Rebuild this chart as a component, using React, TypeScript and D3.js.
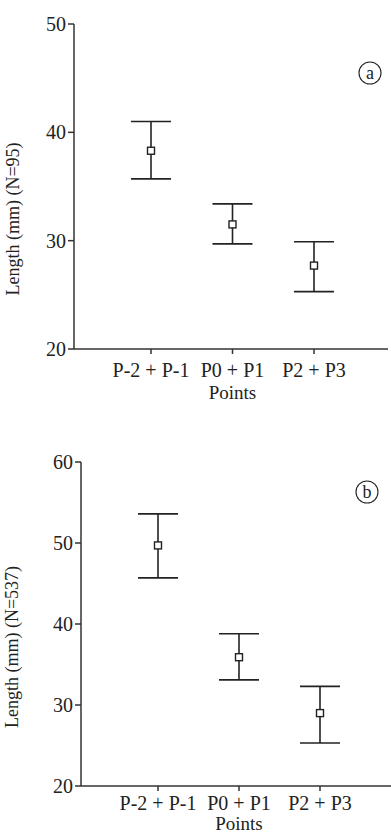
import * as d3 from "d3";
import React, { useEffect, useRef } from "react";

// categories on the x axis
const points = ["P-2 + P-1", "P0 + P1", "P2 + P3"];

// panel a (N=95): mean and error bar ends
const meanA = [38.3, 31.5, 27.7];
const lowA = [35.7, 29.7, 25.3];
const highA = [41.0, 33.4, 29.9];
const ticksA = [20, 30, 40, 50];

// panel b (N=537)
const meanB = [49.7, 35.9, 29.0];
const lowB = [45.7, 33.1, 25.3];
const highB = [53.6, 38.8, 32.3];
const ticksB = [20, 30, 40, 50, 60];

const FONT = "'Liberation Serif', 'Times New Roman', serif";

const App = () => {
  const svgRef = useRef<SVGSVGElement>(null);

  useEffect(() => {
    const svg = d3.select(svgRef.current);
    svg.selectAll("*").remove();

    const drawPanel = (opts: any) => {
      const { left, right, top, bottom, domain, ticks, mean, low, high, tag, ylabel, labelX, labelY, tagX, tagY, xRange, tickDy, titleDy } = opts;

      const x = d3.scalePoint().domain(points).range(xRange);
      const y = d3.scaleLinear().domain(domain).range([bottom, top]);

      const g = svg.append("g");

      // y axis
      g.append("line")
        .attr("x1", left).attr("x2", left)
        .attr("y1", y(domain[1])).attr("y2", y(domain[0]))
        .attr("stroke", "#333").attr("stroke-width", 1.5);
      ticks.forEach((t: number) => {
        g.append("line")
          .attr("x1", left - 6).attr("x2", left)
          .attr("y1", y(t)).attr("y2", y(t))
          .attr("stroke", "#333").attr("stroke-width", 1.5);
        g.append("text")
          .attr("x", left - 8).attr("y", y(t))
          .attr("dy", "0.35em")
          .attr("text-anchor", "end")
          .attr("font-family", FONT).attr("font-size", 20)
          .attr("fill", "#222")
          .text(t);
      });

      // x axis
      g.append("line")
        .attr("x1", left).attr("x2", right)
        .attr("y1", bottom).attr("y2", bottom)
        .attr("stroke", "#333").attr("stroke-width", 1.5);
      points.forEach((p) => {
        g.append("line")
          .attr("x1", x(p)!).attr("x2", x(p)!)
          .attr("y1", bottom).attr("y2", bottom + 5)
          .attr("stroke", "#333").attr("stroke-width", 1.5);
        g.append("text")
          .attr("x", x(p)!).attr("y", bottom + tickDy)
          .attr("text-anchor", "middle")
          .attr("font-family", FONT).attr("font-size", 20)
          .attr("fill", "#222")
          .text(p);
      });
      g.append("text")
        .attr("x", x(points[1])!).attr("y", bottom + titleDy)
        .attr("text-anchor", "middle")
        .attr("font-family", FONT).attr("font-size", 19)
        .attr("fill", "#222")
        .text("Points");

      // y label
      g.append("text")
        .attr("transform", `translate(${labelX},${labelY}) rotate(-90)`)
        .attr("text-anchor", "middle")
        .attr("dy", "0.35em")
        .attr("font-family", FONT).attr("font-size", 18)
        .attr("fill", "#222")
        .text(ylabel);

      // error bars
      points.forEach((p, i) => {
        const cx = x(p)!;
        g.append("line")
          .attr("x1", cx).attr("x2", cx)
          .attr("y1", y(high[i])).attr("y2", y(low[i]))
          .attr("stroke", "#222").attr("stroke-width", 1.6);
        [high[i], low[i]].forEach((v) => {
          g.append("line")
            .attr("x1", cx - 20).attr("x2", cx + 20)
            .attr("y1", y(v)).attr("y2", y(v))
            .attr("stroke", "#222").attr("stroke-width", 1.6);
        });
        g.append("rect")
          .attr("x", cx - 3.5).attr("y", y(mean[i]) - 3.5)
          .attr("width", 7).attr("height", 7)
          .attr("fill", "#fff")
          .attr("stroke", "#222").attr("stroke-width", 1.4);
      });

      // panel tag
      g.append("circle")
        .attr("cx", tagX).attr("cy", tagY).attr("r", 11)
        .attr("fill", "none").attr("stroke", "#222").attr("stroke-width", 1.1);
      g.append("text")
        .attr("x", tagX).attr("y", tagY)
        .attr("dy", "0.33em")
        .attr("text-anchor", "middle")
        .attr("font-family", FONT).attr("font-size", 18)
        .attr("fill", "#222")
        .text(tag);
    };

    drawPanel({
      left: 74, right: 388, top: 24, bottom: 349,
      domain: [20, 50], ticks: ticksA,
      mean: meanA, low: lowA, high: highA,
      xRange: [151, 314],
      tickDy: 28, titleDy: 50,
      tag: "a", tagX: 370, tagY: 73,
      ylabel: "Length (mm) (N=95)", labelX: 13, labelY: 219,
    });

    drawPanel({
      left: 81, right: 391, top: 462, bottom: 786,
      domain: [20, 60], ticks: ticksB,
      mean: meanB, low: lowB, high: highB,
      xRange: [158, 320],
      tickDy: 24, titleDy: 44,
      tag: "b", tagX: 367, tagY: 492,
      ylabel: "Length (mm) (N=537)", labelX: 12, labelY: 647,
    });
  }, []);

  return (
    <div style={{ position: "absolute", left: 0, top: 0 }}>
      <svg ref={svgRef} width={391} height={834} style={{ display: "block", background: "#fff" }}></svg>
    </div>
  );
};

export default App;
